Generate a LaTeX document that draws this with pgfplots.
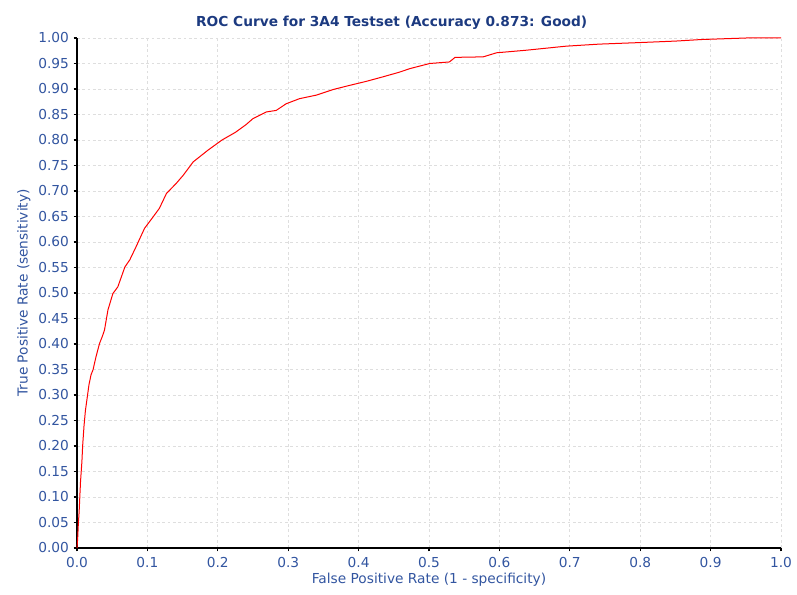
\documentclass[border=0pt]{standalone}
\usepackage{pgfplots}
\pgfplotsset{compat=1.18}
\usepackage{fontspec}
\setmainfont{DejaVu Sans}
\definecolor{ticklab}{RGB}{50,85,160}
\definecolor{titlec}{RGB}{28,58,128}
\definecolor{gridc}{RGB}{222,222,222}
\begin{document}
\begin{tikzpicture}
\useasboundingbox (-57.75pt,-35.25pt) rectangle (540pt,411pt);
\begin{axis}[
  scale only axis,
  width=528pt, height=382.5pt,
  at={(0,0)}, anchor=origin,
  xmin=0, xmax=1, ymin=0, ymax=1,
  axis x line*=bottom, axis y line*=left,
  axis line style={line width=1.4pt, black, -},
  xtick={0,0.1,...,1.0},
  ytick={0,0.05,...,1.0},
  tick align=outside,
  major tick length=2.5pt,
  tick style={black, line width=0.8pt},
  grid=major,
  major grid style={gridc, dash pattern=on 2pt off 2pt, line width=0.6pt},
  /pgf/number format/assume math mode=true,
  xticklabel style={font=\fontsize{10.3}{11}\selectfont, color=ticklab, yshift=-1pt, /pgf/number format/.cd, fixed, fixed zerofill, precision=1},
  yticklabel style={font=\fontsize{10.3}{11}\selectfont, color=ticklab, /pgf/number format/.cd, fixed, fixed zerofill, precision=2},
  scaled ticks=false,
  xlabel={False Positive Rate (1 - specificity)},
  ylabel={True Positive Rate (sensitivity)},
  xlabel style={font=\fontsize{10.3}{11}\selectfont, color=ticklab, yshift=3pt},
  ylabel style={font=\fontsize{10.3}{11}\selectfont, color=ticklab, yshift=-1pt},
  title={\textbf{ROC Curve for 3A4 Testset (Accuracy 0.873: Good)}},
  title style={font=\fontsize{10.3}{11}\selectfont, color=titlec, yshift=-3pt, xshift=-28pt},
  clip=false,
]
\addplot[red, line width=0.75pt] coordinates {
(0,0) (0.001,0.02) (0.002,0.05) (0.003,0.07) (0.004,0.10) (0.005,0.13)
(0.007,0.17) (0.008,0.20) (0.010,0.24) (0.012,0.27) (0.015,0.30) (0.017,0.32)
(0.020,0.34) (0.0227,0.349) (0.027,0.375) (0.032,0.401) (0.036,0.415) (0.039,0.427)
(0.044,0.467) (0.051,0.499) (0.058,0.512) (0.068,0.551) (0.075,0.565)
(0.084,0.591) (0.096,0.627) (0.108,0.649) (0.117,0.666) (0.127,0.695)
(0.141,0.715) (0.151,0.731) (0.165,0.757) (0.186,0.780) (0.206,0.800)
(0.225,0.815) (0.240,0.830) (0.250,0.842) (0.269,0.855) (0.283,0.858)
(0.297,0.871) (0.316,0.881) (0.340,0.888) (0.364,0.899) (0.387,0.907)
(0.411,0.915) (0.435,0.924) (0.458,0.933) (0.473,0.940) (0.501,0.950)
(0.529,0.953) (0.537,0.962) (0.577,0.963) (0.596,0.971) (0.638,0.976)
(0.695,0.984) (0.742,0.988) (0.799,0.991) (0.851,0.994) (0.887,0.997)
(0.951,1.0) (1.0,1.0)
};
\end{axis}
\end{tikzpicture}
\end{document}
